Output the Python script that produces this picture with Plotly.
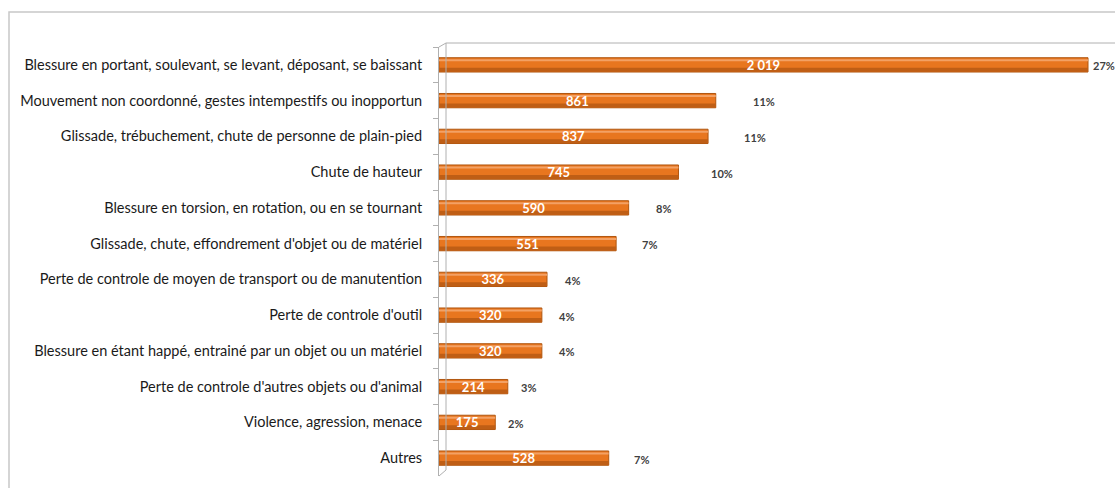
import plotly.graph_objects as go

categories = [
    "Blessure en portant, soulevant, se levant, déposant, se baissant",
    "Mouvement non coordonné, gestes intempestifs ou inopportun",
    "Glissade, trébuchement, chute de personne de plain-pied",
    "Chute de hauteur",
    "Blessure en torsion, en rotation, ou en se tournant",
    "Glissade, chute, effondrement d'objet ou de matériel",
    "Perte de controle de moyen de transport ou de manutention",
    "Perte de controle d'outil",
    "Blessure en étant happé, entrainé par un objet ou un matériel",
    "Perte de controle d'autres objets ou d'animal",
    "Violence, agression, menace",
    "Autres",
]
values = [2019, 861, 837, 745, 590, 551, 336, 320, 320, 214, 175, 528]
percents = ["27%", "11%", "11%", "10%", "8%", "7%", "4%", "4%", "4%", "3%", "2%", "7%"]

value_text = [f"<b>{v:,}</b>".replace(",", " ") for v in values]

fig = go.Figure()
# main cylinder body
fig.add_trace(go.Bar(
    y=categories, x=values, orientation="h", width=0.4,
    marker=dict(color="#E8761F", line=dict(color="#B0560F", width=1)),
    hoverinfo="skip",
))
# lower shading
fig.add_trace(go.Bar(
    y=categories, x=values, orientation="h", width=0.11, offset=0.08,
    marker=dict(color="#BF5E15", line=dict(width=0)),
    hoverinfo="skip",
))
# upper highlight
fig.add_trace(go.Bar(
    y=categories, x=values, orientation="h", width=0.06, offset=-0.16,
    marker=dict(color="#F3A164", line=dict(width=0)),
    hoverinfo="skip",
))
# value labels
fig.add_trace(go.Bar(
    y=categories, x=values, orientation="h", width=0.4,
    marker=dict(color="rgba(0,0,0,0)", line=dict(width=0)),
    text=value_text, textposition="inside", insidetextanchor="middle",
    textfont=dict(family="Lato", size=13, color="white"),
    hoverinfo="skip",
))

annotations = []
for c, v, p in zip(categories, values, percents):
    shift = 4 + 0.036 * v if v < 1500 else 3
    annotations.append(dict(
        x=v, y=c, xref="x", yref="y", text=f"<b>{p}</b>", showarrow=False,
        xanchor="left", xshift=shift, yshift=-1,
        font=dict(family="Lato", size=11, color="#404040"),
    ))

L, T, B, W = 439, 47, 476, 1115
PW, PH = W - L, B - T
def px(xp):
    return (xp - L) / PW
def py(yp):
    return (B - yp) / PH

grey = "#B0B0B0"
shapes = [
    dict(type="rect", xref="paper", yref="paper", x0=px(9), x1=px(1130), y0=py(12), y1=py(500),
         line=dict(color="#C8C8C8", width=1.5)),
    dict(type="line", xref="paper", yref="paper", x0=px(446), x1=px(446), y0=py(43), y1=py(470),
         line=dict(color=grey, width=1)),
    dict(type="line", xref="paper", yref="paper", x0=px(446), x1=px(1130), y0=py(43), y1=py(43),
         line=dict(color=grey, width=1)),
    dict(type="line", xref="paper", yref="paper", x0=px(L), x1=px(446), y0=py(T), y1=py(43),
         line=dict(color=grey, width=1)),
    dict(type="line", xref="paper", yref="paper", x0=px(L), x1=px(446), y0=py(B), y1=py(470),
         line=dict(color=grey, width=1)),
]

fig.update_layout(
    width=1115, height=488,
    margin=dict(l=L, r=0, t=T, b=488 - B, autoexpand=False),
    paper_bgcolor="white", plot_bgcolor="white",
    showlegend=False, barmode="overlay",
    annotations=annotations, shapes=shapes,
    xaxis=dict(range=[0, 2103], visible=False, fixedrange=True),
    yaxis=dict(
        autorange="reversed", showline=True, linecolor=grey, linewidth=1,
        ticks="outside", tickson="boundaries", ticklen=5, tickcolor=grey,
        ticklabelstandoff=13, automargin=False,
        tickfont=dict(family="Lato", size=14.5, color="#1a1a1a"),
        showgrid=False, fixedrange=True,
    ),
    uniformtext=dict(mode="show", minsize=8),
)

fig.write_html("out.html", config={"displayModeBar": False},
               post_script="document.body.style.margin='0';document.body.style.overflow='hidden';")
